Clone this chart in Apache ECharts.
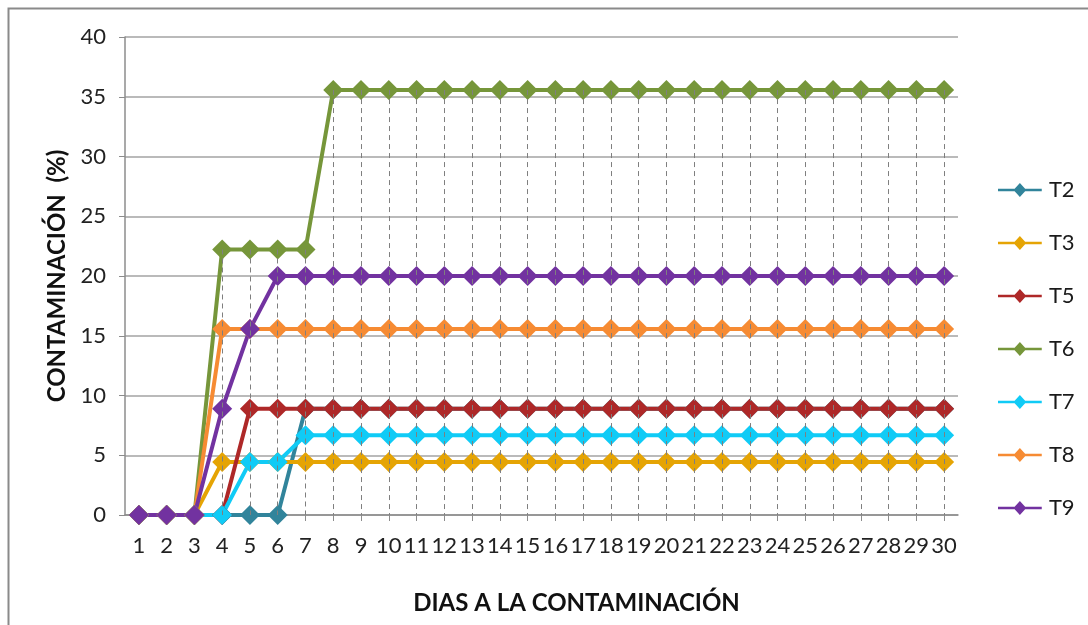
<!DOCTYPE html>
<html>
<head>
<meta charset="utf-8">
<style>
  html, body { margin: 0; padding: 0; background: #ffffff; }
  #chart { width: 1088px; height: 625px; }
</style>
<script src="https://cdn.jsdelivr.net/npm/echarts@6/dist/echarts.min.js"></script>
</head>
<body>
<div id="chart"></div>
<script>
// Days after contamination (x axis categories)
const days = Array.from({ length: 30 }, (_, i) => String(i + 1));

// Contamination (%) per treatment, one value per day
const T2 = [0, 0, 0, 0, 0, 0, 8.89, 8.89, 8.89, 8.89, 8.89, 8.89, 8.89, 8.89, 8.89, 8.89, 8.89, 8.89, 8.89, 8.89, 8.89, 8.89, 8.89, 8.89, 8.89, 8.89, 8.89, 8.89, 8.89, 8.89];
const T3 = [0, 0, 0, 4.44, 4.44, 4.44, 4.44, 4.44, 4.44, 4.44, 4.44, 4.44, 4.44, 4.44, 4.44, 4.44, 4.44, 4.44, 4.44, 4.44, 4.44, 4.44, 4.44, 4.44, 4.44, 4.44, 4.44, 4.44, 4.44, 4.44];
const T5 = [0, 0, 0, 0, 8.89, 8.89, 8.89, 8.89, 8.89, 8.89, 8.89, 8.89, 8.89, 8.89, 8.89, 8.89, 8.89, 8.89, 8.89, 8.89, 8.89, 8.89, 8.89, 8.89, 8.89, 8.89, 8.89, 8.89, 8.89, 8.89];
const T6 = [0, 0, 0, 22.22, 22.22, 22.22, 22.22, 35.56, 35.56, 35.56, 35.56, 35.56, 35.56, 35.56, 35.56, 35.56, 35.56, 35.56, 35.56, 35.56, 35.56, 35.56, 35.56, 35.56, 35.56, 35.56, 35.56, 35.56, 35.56, 35.56];
const T7 = [0, 0, 0, 0, 4.44, 4.44, 6.67, 6.67, 6.67, 6.67, 6.67, 6.67, 6.67, 6.67, 6.67, 6.67, 6.67, 6.67, 6.67, 6.67, 6.67, 6.67, 6.67, 6.67, 6.67, 6.67, 6.67, 6.67, 6.67, 6.67];
const T8 = [0, 0, 0, 15.56, 15.56, 15.56, 15.56, 15.56, 15.56, 15.56, 15.56, 15.56, 15.56, 15.56, 15.56, 15.56, 15.56, 15.56, 15.56, 15.56, 15.56, 15.56, 15.56, 15.56, 15.56, 15.56, 15.56, 15.56, 15.56, 15.56];
const T9 = [0, 0, 0, 8.89, 15.56, 20, 20, 20, 20, 20, 20, 20, 20, 20, 20, 20, 20, 20, 20, 20, 20, 20, 20, 20, 20, 20, 20, 20, 20, 20];

const yTicks = { min: 0, max: 40, step: 5 };

const treatments = [
  { name: 'T2', data: T2, color: '#31849B' },
  { name: 'T3', data: T3, color: '#E5A404' },
  { name: 'T5', data: T5, color: '#AE2828' },
  { name: 'T6', data: T6, color: '#76963A' },
  { name: 'T7', data: T7, color: '#10CBF6' },
  { name: 'T8', data: T8, color: '#F68B33' },
  { name: 'T9', data: T9, color: '#7232A0' }
];

const FONT = 'Lato';

// Drop lines: from the highest treatment value of each day down to the axis
const dropLines = days.map((d, i) => {
  const top = Math.max(...treatments.map(t => t.data[i]));
  return top > 0 ? [{ coord: [i, top] }, { coord: [i, 0] }] : null;
}).filter(Boolean);

const series = treatments.map(t => ({
  name: t.name,
  type: 'line',
  data: t.data,
  color: t.color,
  symbol: 'diamond',
  symbolSize: 20,
  lineStyle: { width: 4, color: t.color },
  itemStyle: { color: t.color },
  emphasis: { disabled: true },
  animation: false
}));

series.push({
  name: 'drop',
  type: 'line',
  data: [],
  z: 20,
  silent: true,
  animation: false,
  markLine: {
    silent: true,
    symbol: 'none',
    animation: false,
    label: { show: false },
    lineStyle: { color: '#7f7f7f', width: 1, type: [5, 4] },
    emphasis: { disabled: true },
    data: dropLines
  }
});

const chart = echarts.init(document.getElementById('chart'));
chart.setOption({
  backgroundColor: '#ffffff',
  animation: false,
  textStyle: { fontFamily: FONT },
  graphic: [{
    type: 'rect',
    shape: { x: 8.5, y: 8.5, width: 1200, height: 800 },
    style: { fill: 'none', stroke: '#8a8a8a', lineWidth: 2 },
    silent: true
  }],
  grid: { left: 125, right: 130, top: 37, bottom: 110, containLabel: false },
  legend: {
    orient: 'vertical',
    left: 993,
    top: 174,
    data: treatments.map(t => t.name),
    icon: 'path://M0,5.5 L19,5.5 L25,-1 L31,5.5 L50,5.5 L50,8.5 L31,8.5 L25,15 L19,8.5 L0,8.5 Z',
    itemWidth: 52,
    itemHeight: 14,
    itemGap: 31,
    textStyle: { fontFamily: FONT, fontSize: 22, color: '#1a1a1a', padding: [0, 0, 0, -2] },
    selectedMode: false
  },
  xAxis: {
    type: 'category',
    data: days,
    boundaryGap: true,
    name: 'DIAS A LA CONTAMINACIÓN',
    nameLocation: 'middle',
    nameGap: 76,
    nameTextStyle: { fontFamily: FONT, fontSize: 24, fontWeight: 'bold', color: '#111', padding: [0, 0, 0, 70] },
    axisLine: { show: true, lineStyle: { color: '#8c8c8c', width: 1.5 } },
    axisTick: { show: true, alignWithLabel: true, length: 6, lineStyle: { color: '#8c8c8c' } },
    axisLabel: { interval: 0, fontFamily: FONT, fontSize: 22, color: '#222', margin: 20 },
    splitLine: { show: false }
  },
  yAxis: {
    type: 'value',
    min: yTicks.min,
    max: yTicks.max,
    interval: yTicks.step,
    name: 'CONTAMINACIÓN  (%)',
    nameLocation: 'middle',
    nameGap: 56,
    nameTextStyle: { fontFamily: FONT, fontSize: 24, fontWeight: 'bold', color: '#111' },
    axisLine: { show: true, lineStyle: { color: '#8c8c8c', width: 1.5 } },
    axisTick: { show: true, length: 6, lineStyle: { color: '#8c8c8c' } },
    axisLabel: { fontFamily: FONT, fontSize: 22, color: '#222', margin: 19 },
    splitLine: { show: true, lineStyle: { color: '#a3a3a3', width: 1.5 } }
  },
  series: series
});
</script>
</body>
</html>
